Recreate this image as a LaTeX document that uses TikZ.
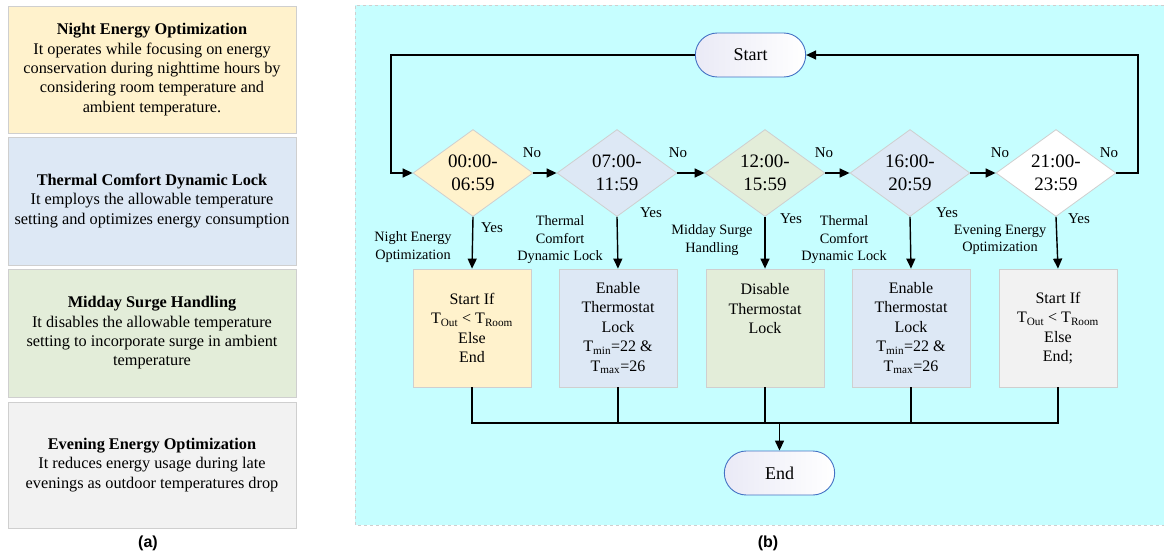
\documentclass[tikz,border=0pt]{standalone}
\usepackage{fontspec}
\setmainfont{Liberation Serif}
\newfontfamily\arialf{Liberation Sans}
\usetikzlibrary{shapes.geometric,shapes.misc,arrows.meta}
\definecolor{cyanbg}{HTML}{C6FEFF}
\definecolor{ylw}{HTML}{FFF2CC}
\definecolor{blu}{HTML}{DDE8F5}
\definecolor{grn}{HTML}{E3EDD9}
\definecolor{gry}{HTML}{F2F2F2}
\definecolor{edge}{HTML}{CFCFCF}
\definecolor{termblue}{HTML}{4472C4}
\definecolor{lav}{HTML}{EAEAF6}
\begin{document}
\begin{tikzpicture}[x=1pt,y=-1pt,
 infobox/.style={draw=edge,line width=0.8pt,minimum width=288pt,align=center,font=\fontsize{16.3}{19.3}\selectfont,inner sep=0pt},
 dec/.style={diamond,draw=edge,line width=0.8pt,minimum width=120pt,minimum height=87pt,inner sep=0pt,aspect=1.38,align=center,font=\fontsize{19}{23}\selectfont},
 act/.style={draw=edge,line width=0.8pt,minimum width=118pt,minimum height=118pt,align=center,inner sep=0pt,font=\fontsize{16}{19.5}\selectfont},
 term/.style={rounded rectangle,draw=termblue,line width=0.9pt,minimum width=117pt,minimum height=44pt,left color=lav,right color=white,font=\fontsize{18}{22}\selectfont},
 lbl/.style={align=center,font=\fontsize{14.3}{17.5}\selectfont,inner sep=0pt},
 yn/.style={font=\fontsize{15}{18}\selectfont,inner sep=0pt},
 flow/.style={line width=1.4pt,-{Triangle[length=10pt,width=9pt]}},
 wire/.style={line width=1.4pt},
 captxt/.style={font=\arialf\bfseries\fontsize{16}{19}\selectfont,inner sep=0pt}
]
\useasboundingbox (0,0) rectangle (1164,555);
% ---------- panel (a) ----------
\node[infobox,fill=ylw,minimum height=127pt] (i1) at (152,69.5) {\textbf{Night Energy Optimization}\\It operates while focusing on energy\\conservation during nighttime hours by\\considering room temperature and\\ambient temperature.};
\node[infobox,fill=blu,minimum height=128pt] (i2) at (152,201) {\textbf{Thermal Comfort Dynamic Lock}\\It employs the allowable temperature\\setting and optimizes energy consumption};
\node[infobox,fill=grn,minimum height=128pt] (i3) at (152,333) {\textbf{Midday Surge Handling}\\It disables the allowable temperature\\setting to incorporate surge in ambient\\temperature};
\node[infobox,fill=gry,minimum height=126pt] (i4) at (152,465) {\textbf{Evening Energy Optimization}\\It reduces energy usage during late\\evenings as outdoor temperatures drop};
\node[captxt] (ca) at (148,543) {(a)};
% ---------- panel (b) ----------
\fill[cyanbg] (355,5) rectangle (1164,525);
\draw[edge,dashed,line width=0.8pt] (1164,5) -- (355,5) -- (355,525) -- (1164,525);
\node[captxt] (cb) at (768,543) {(b)};

\node[term] (start) at (750.5,55) {Start};
\node[term] (end) at (779.5,473) {End};

\node[dec,fill=ylw] (d1) at (473,173) {00:00-\\06:59};
\node[dec,fill=blu] (d2) at (617,173) {07:00-\\11:59};
\node[dec,fill=grn] (d3) at (765,173) {12:00-\\15:59};
\node[dec,fill=blu] (d4) at (910,173) {16:00-\\20:59};
\node[dec,fill=white] (d5) at (1056,173) {21:00-\\23:59};

\node[act,fill=ylw] (b1) at (472,328) {Start If\\T\textsubscript{Out} {<} T\textsubscript{Room}\\Else\\End};
\node[act,fill=blu] (b2) at (618,328) {Enable\\Thermostat\\Lock\\T\textsubscript{min}=22 \&\\T\textsubscript{max}=26};
\node[act,fill=grn] (b3) at (765,328) {Disable\\Thermostat\\Lock\\[19.5pt]};
\node[act,fill=blu] (b4) at (911,328) {Enable\\Thermostat\\Lock\\T\textsubscript{min}=22 \&\\T\textsubscript{max}=26};
\node[act,fill=gry] (b5) at (1058,328) {Start If\\T\textsubscript{Out} {<} T\textsubscript{Room}\\Else\\End;};

% loop connectors
\coordinate (tl) at (391,55);
\coordinate (bl) at (391,173);
\coordinate (tr) at (1138,55);
\coordinate (br) at (1138,173);
\draw[flow] (start.west) -- (tl) -- (bl) -- (d1.west);
\draw[flow] (d5.east) -- (br) -- (tr) -- (start.east);
\draw[flow] (d1.east) -- (d2.west);
\draw[flow] (d2.east) -- (d3.west);
\draw[flow] (d3.east) -- (d4.west);
\draw[flow] (d4.east) -- (d5.west);

\draw[flow] (d1.south) -- (b1.north);
\draw[flow] (d2.south) -- (b2.north);
\draw[flow] (d3.south) -- (b3.north);
\draw[flow] (d4.south) -- (b4.north);
\draw[flow] (d5.south) -- (b5.north);

% collector
\coordinate (j1) at (472,423);
\coordinate (j5) at (1058,423);
\coordinate (je) at (779.5,423);
\draw[wire] (b1.south) -- (j1) -- (j5) -- (b5.south);
\draw[wire] (b2.south) -- (b2.south |- j1);
\draw[wire] (b3.south) -- (b3.south |- j1);
\draw[wire] (b4.south) -- (b4.south |- j1);
\draw[flow] (je) -- (end.north);

% No labels
\node[yn] (n1) at (532,153) {No};
\node[yn] (n2) at (678,153) {No};
\node[yn] (n3) at (824,153) {No};
\node[yn] (n4) at (1000,153) {No};
\node[yn] (n5) at (1109,153) {No};
% Yes labels
\node[yn] (y1) at (492,228) {Yes};
\node[yn] (y2) at (651,213) {Yes};
\node[yn] (y3) at (791,219) {Yes};
\node[yn] (y4) at (947,213) {Yes};
\node[yn] (y5) at (1079,219) {Yes};
% branch labels
\node[lbl] (l1) at (413,247) {Night Energy\\Optimization};
\node[lbl] (l2) at (560,240) {Thermal\\Comfort\\Dynamic Lock};
\node[lbl] (l3) at (712,240) {Midday Surge\\Handling};
\node[lbl] (l4) at (844,240) {Thermal\\Comfort\\Dynamic Lock};
\node[lbl] (l5) at (1000,240) {Evening Energy\\Optimization};
\end{tikzpicture}
\end{document}
